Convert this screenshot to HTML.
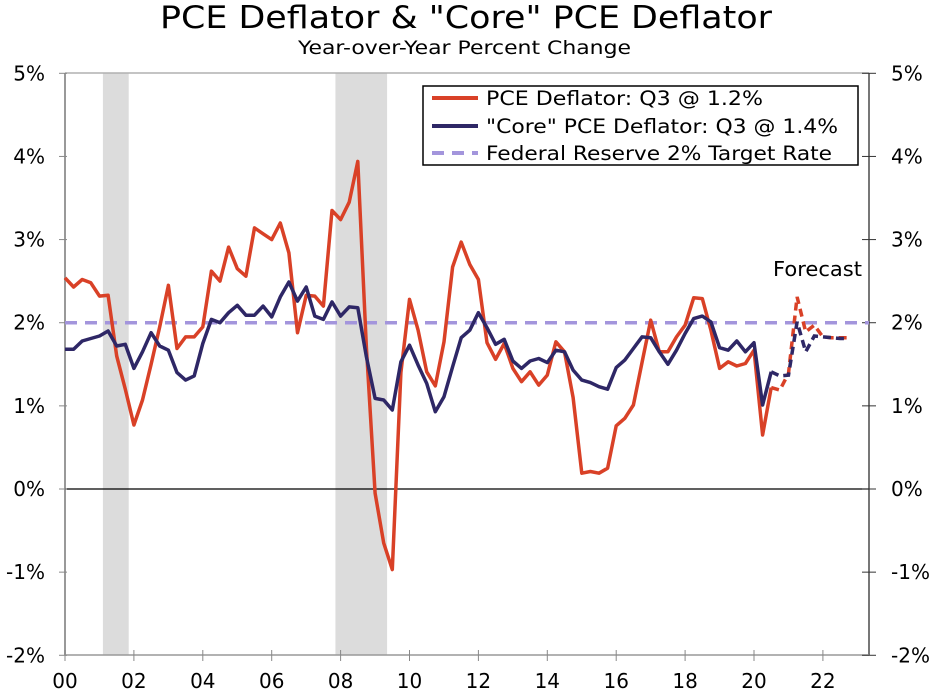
<!DOCTYPE html>
<html><head><meta charset="utf-8"><style>
body{margin:0;background:#fff;}
svg{display:block;font-family:"DejaVu Sans","Liberation Sans",sans-serif;}
</style></head><body>
<svg id="chart" width="934" height="692" viewBox="0 0 934 692">
<text x="160" y="28" textLength="612" lengthAdjust="spacingAndGlyphs" font-size="31">PCE Deflator &amp; "Core" PCE Deflator</text>
<text x="298" y="54" textLength="333" lengthAdjust="spacingAndGlyphs" font-size="19">Year-over-Year Percent Change</text>
<g id="bands"></g><g id="grid"></g><g id="lines"></g>
<g>
<rect x="423" y="86" width="435" height="79" fill="#fff" stroke="#000" stroke-width="1.5"/>
<line x1="432" y1="98" x2="478" y2="98" stroke="#d94127" stroke-width="4"/>
<text x="486" y="105" textLength="277" lengthAdjust="spacingAndGlyphs" font-size="19.5">PCE Deflator: Q3 @ 1.2%</text>
<line x1="432" y1="126" x2="478" y2="126" stroke="#2e2766" stroke-width="4"/>
<text x="486" y="133" textLength="352" lengthAdjust="spacingAndGlyphs" font-size="19.5">"Core" PCE Deflator: Q3 @ 1.4%</text>
<line x1="432" y1="153" x2="478" y2="153" stroke="#a395dc" stroke-width="4" stroke-dasharray="12 8"/>
<text x="486" y="160" textLength="346" lengthAdjust="spacingAndGlyphs" font-size="19.5">Federal Reserve 2% Target Rate</text>
</g>
<text x="773" y="276" textLength="89" lengthAdjust="spacingAndGlyphs" font-size="20">Forecast</text>
</svg>
<script>
const pce=[2.54,2.43,2.52,2.48, 2.32,2.33,1.6,1.2, 0.77,1.07,1.5,1.95, 2.45,1.69,1.83,1.83, 1.95,2.62,2.5,2.91, 2.65,2.56,3.14,3.07, 3.0,3.2,2.84,1.88, 2.33,2.32,2.2,3.35, 3.24,3.45,3.94,1.7, -0.05,-0.65,-0.97,1.4, 2.28,1.91,1.41,1.24, 1.77,2.67,2.97,2.7, 2.52,1.76,1.56,1.75, 1.45,1.29,1.41,1.25, 1.37,1.77,1.65,1.1, 0.19,0.21,0.19,0.25, 0.76,0.85,1.01,1.52, 2.03,1.65,1.65,1.83, 1.97,2.3,2.29,1.91, 1.45,1.53,1.48,1.51, 1.67,0.65,1.22,1.19, 1.39,2.31,1.89,1.97, 1.83,1.82,1.82,1.82];
const core=[1.68,1.68,1.78,1.81, 1.84,1.9,1.72,1.74, 1.45,1.65,1.88,1.72, 1.67,1.4,1.31,1.36, 1.75,2.04,2.0,2.12, 2.21,2.09,2.09,2.2, 2.07,2.31,2.49,2.26, 2.43,2.08,2.04,2.25, 2.08,2.19,2.18,1.59, 1.09,1.07,0.95,1.53, 1.73,1.49,1.27,0.93, 1.11,1.47,1.82,1.91, 2.12,1.94,1.74,1.8, 1.54,1.45,1.54,1.57, 1.52,1.67,1.65,1.43, 1.31,1.28,1.23,1.2, 1.46,1.55,1.69,1.83, 1.82,1.65,1.5,1.67, 1.87,2.05,2.08,2.01, 1.7,1.67,1.78,1.65, 1.76,1.01,1.41,1.36, 1.37,2.01,1.65,1.84, 1.83,1.82,1.81,1.81];
const startYear=2000;
const forecastStart=82;
const target=2;
const yTicks=[5,4,3,2,1,0,-1,-2];
const xTickYears=[2000,2002,2004,2006,2008,2010,2012,2014,2016,2018,2020,2022];
const recessions=[[2001.1,2001.85],[2007.85,2009.35]];
const NS="http://www.w3.org/2000/svg";
const L=65,R=869,T=73,B=655;
const xs=t=>L+(t-2000)*34.45;
const ys=v=>489-v*83.14;
function mk(tag,attrs,parent){const e=document.createElementNS(NS,tag);for(const k in attrs)e.setAttribute(k,attrs[k]);parent.appendChild(e);return e;}
const bands=document.getElementById('bands'),grid=document.getElementById('grid'),lines=document.getElementById('lines');
recessions.forEach(r=>{const e=mk('rect',{x:xs(r[0]),y:T,width:xs(r[1])-xs(r[0]),height:B-T,fill:'#dcdcdc'},bands);

});
mk('line',{x1:L,y1:T,x2:R,y2:T,stroke:'#b0b0b0','stroke-width':1.5},grid);
mk('line',{x1:L,y1:T,x2:L,y2:B,stroke:'#999','stroke-width':2},grid);
mk('line',{x1:R,y1:T,x2:R,y2:B,stroke:'#777','stroke-width':2},grid);
mk('line',{x1:L,y1:B,x2:R,y2:B,stroke:'#999','stroke-width':1.5},grid);
mk('line',{x1:L,y1:ys(0),x2:R,y2:ys(0),stroke:'#000','stroke-width':1.2},grid);
yTicks.forEach(v=>{const y=ys(v);
mk('line',{x1:L-6,y1:y,x2:L+2,y2:y,stroke:'#888'},grid);
mk('line',{x1:R-7,y1:y,x2:R+7,y2:y,stroke:'#333'},grid);
const a=mk('text',{x:45,y:y+7,'text-anchor':'end','font-size':20},grid);a.textContent=v+'%';


const b=mk('text',{x:891,y:y+7,'text-anchor':'start','font-size':20},grid);b.textContent=v+'%';

});
xTickYears.forEach(yr=>{const x=xs(yr);
mk('line',{x1:x,y1:B-5,x2:x,y2:B+6,stroke:'#888'},grid);
const t=mk('text',{x:x,y:688,'text-anchor':'middle','font-size':20},grid);t.textContent=String(yr%100).padStart(2,'0');

});
const tl=mk('line',{x1:L,y1:ys(target),x2:R,y2:ys(target),stroke:'#a395dc','stroke-width':3.5,'stroke-dasharray':'12 8'},lines);


function pts(arr,a,b){return arr.slice(a,b).map((v,i)=>xs(startYear+(a+i)/4).toFixed(1)+','+ys(v).toFixed(1)).join(' ');}
[[pce,'#d94127','pce'],[core,'#2e2766','core']].forEach(([arr,c,n])=>{
const s=mk('polyline',{points:pts(arr,0,forecastStart+1),fill:'none',stroke:c,'stroke-width':3.5,'stroke-linejoin':'round'},lines);


const d=mk('polyline',{points:pts(arr,forecastStart,arr.length),fill:'none',stroke:c,'stroke-width':3.5,'stroke-dasharray':'8 5'},lines);

});
</script>
</body></html>
